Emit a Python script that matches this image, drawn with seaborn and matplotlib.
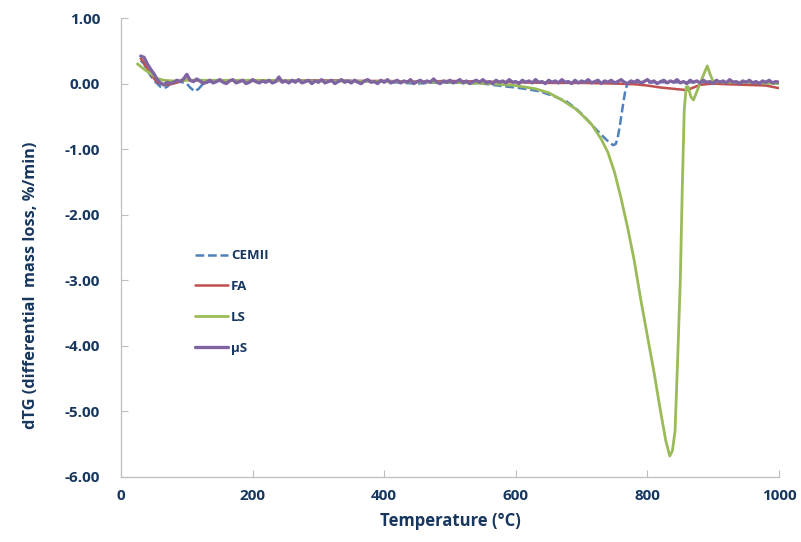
import numpy as np
import pandas as pd
import matplotlib
matplotlib.use("Agg")
import matplotlib.pyplot as plt
import seaborn as sns

# ---------------- data ----------------
cem_T = [30, 35, 40, 45, 50, 55, 60, 65, 70, 75, 80, 90, 100, 105, 112, 118, 125, 135, 150,
         200, 250, 300, 350, 400, 430, 450, 480, 520, 550, 580, 600, 620, 637, 660, 678, 690,
         702, 713, 723, 738, 748, 752, 755, 758, 761, 764, 767, 770, 780, 850, 920, 1000]
cem_v = [0.35, 0.30, 0.20, 0.12, 0.05, 0.00, -0.05, -0.07, -0.05, 0.00, 0.02, 0.03, 0.00, -0.06,
         -0.12, -0.08, 0.00, 0.03, 0.04, 0.05, 0.04, 0.05, 0.04, 0.03, 0.01, 0.00, 0.02, 0.01,
         0.00, -0.04, -0.06, -0.09, -0.12, -0.20, -0.28, -0.37, -0.48, -0.60, -0.71, -0.86,
         -0.94, -0.92, -0.82, -0.65, -0.45, -0.25, -0.08, 0.00, 0.02, 0.02, 0.02, 0.00]

fa_T = [30, 35, 40, 45, 50, 55, 60, 70, 80, 90, 100, 110, 120, 140, 160, 180, 200, 250, 300,
        350, 400, 450, 500, 550, 600, 650, 700, 750, 780, 800, 820, 840, 860, 870, 880, 900,
        920, 950, 980, 1000]
fa_v = [0.38, 0.32, 0.22, 0.15, 0.08, 0.02, 0.00, -0.02, 0.00, 0.03, 0.06, 0.05, 0.04, 0.05,
        0.04, 0.05, 0.04, 0.04, 0.05, 0.04, 0.04, 0.03, 0.04, 0.03, 0.02, 0.01, 0.01, 0.00,
        -0.01, -0.03, -0.06, -0.08, -0.10, -0.06, -0.02, 0.00, -0.01, -0.02, -0.03, -0.07]

ls_T = [25, 35, 45, 55, 65, 80, 100, 150, 200, 300, 400, 500, 560, 600, 630, 650, 670, 690,
        700, 715, 730, 740, 750, 760, 770, 780, 790, 800, 810, 820, 828, 834, 838, 842, 846,
        850, 853, 856, 859, 862, 866, 870, 874, 880, 886, 891, 895, 900, 920, 950, 1000]
ls_v = [0.30, 0.22, 0.15, 0.08, 0.05, 0.04, 0.05, 0.05, 0.05, 0.04, 0.03, 0.02, 0.00, -0.03,
        -0.08, -0.14, -0.25, -0.38, -0.47, -0.62, -0.85, -1.05, -1.35, -1.75, -2.20, -2.70,
        -3.30, -3.85, -4.40, -5.00, -5.45, -5.68, -5.60, -5.30, -4.20, -3.00, -1.60, -0.40,
        -0.05, -0.05, -0.20, -0.25, -0.15, 0.00, 0.15, 0.27, 0.15, 0.03, 0.02, 0.02, 0.00]

us_T = list(range(30, 1001, 5))
us_v = [0.42, 0.40, 0.30, 0.22, 0.15, 0.06, 0.01, -0.02, 0.02, 0.00, 0.02, 0.05, 0.03, 0.07,
        0.14, 0.05, 0.03, 0.07, 0.04,
        0.00, 0.02, 0.05, 0.01, 0.03, 0.06, 0.02, 0.00, 0.04, 0.06, 0.01,
        0.03, 0.05, 0.00, 0.02, 0.06, 0.03, 0.01, 0.04, 0.02, 0.05, 0.01,
        0.03, 0.10, 0.02, 0.04, 0.01, 0.05, 0.02, 0.06, 0.01, 0.03, 0.05,
        0.00, 0.04, 0.02, 0.06, 0.01, 0.03, 0.05, 0.00, 0.03, 0.06, 0.02,
        0.04, 0.01, 0.05, 0.02, 0.00, 0.04, 0.06, 0.02, 0.03, 0.00, 0.05,
        0.02, 0.06, 0.01, 0.03, 0.05, 0.01, 0.04, 0.02, 0.06, 0.00, 0.03,
        0.05, 0.01, 0.04, 0.02, 0.07, 0.02, 0.00, 0.04, 0.02, 0.05, 0.01,
        0.03, 0.06, 0.01, 0.04, 0.00, 0.03, 0.05, 0.02, 0.06, 0.01, 0.03,
        0.00, 0.05, 0.02, 0.04, 0.01, 0.06, 0.02, 0.03, 0.00, 0.05, 0.02,
        0.04, 0.01, 0.06, 0.02, 0.03, 0.00, 0.05, 0.02, 0.04, 0.01, 0.06,
        0.02, 0.03, 0.00, 0.05, 0.01, 0.04, 0.02, 0.06, 0.01, 0.03, 0.05,
        0.00, 0.04, 0.02, 0.05, 0.01, 0.03, 0.06, 0.02, 0.00, 0.04, 0.02,
        0.05, 0.01, 0.03, 0.06, 0.02, 0.04, 0.00, 0.03, 0.05, 0.01, 0.04,
        0.02, 0.06, 0.01, 0.03, 0.00, 0.05, 0.02, 0.04, 0.01, 0.05, 0.02,
        0.03, 0.00, 0.05, 0.02, 0.04, 0.01, 0.06, 0.02, 0.03, 0.00, 0.04,
        0.02, 0.05, 0.01, 0.03, 0.00, 0.04, 0.02, 0.05, 0.01, 0.03, 0.02]

series = [("CEMII", cem_T, cem_v, "#4F81BD", (0, (3.5, 1.5)), 1.8),
          ("FA", fa_T, fa_v, "#C0504D", "-", 1.8),
          ("LS", ls_T, ls_v, "#9BBB59", "-", 2.0),
          ("\u00b5S", us_T, us_v, "#8064A2", "-", 2.4)]

x_ticks = [0, 200, 400, 600, 800, 1000]
y_ticks = [1, 0, -1, -2, -3, -4, -5, -6]

# ---------------- plot ----------------
sns.set_theme(style="white")
plt.rcParams['font.family'] = ['Open Sans', 'DejaVu Sans']
text_col = "#17375E"

fig = plt.figure(figsize=(8.01, 5.42), dpi=100)
ax = fig.add_axes([121/801, 1 - 477/542, (779-121)/801, (477-18)/542])

for name, T, v, col, ls, lw in series:
    df = pd.DataFrame({"T": T, "v": v})
    sns.lineplot(data=df, x="T", y="v", ax=ax, color=col, linestyle=ls, linewidth=lw,
                 label=name, sort=False, estimator=None)

ax.set_xlim(0, 1000)
ax.set_ylim(-6, 1)
ax.set_xticks(x_ticks)
ax.set_yticks(y_ticks)
ax.set_xticklabels([str(t) for t in x_ticks], fontsize=11, fontweight="bold", color=text_col)
ax.set_yticklabels([f"{t:.2f}" for t in y_ticks], fontsize=11, fontweight="bold", color=text_col)
ax.tick_params(axis="x", direction="in", length=5, width=0.8, color="#BFBFBF", pad=9, bottom=True)
ax.tick_params(axis="y", direction="in", length=5, width=0.8, color="#BFBFBF", pad=15, left=True)
for s in ["top", "right"]:
    ax.spines[s].set_visible(False)
for s in ["left", "bottom"]:
    ax.spines[s].set_color("#BFBFBF")
    ax.spines[s].set_linewidth(0.9)

ax.set_xlabel("Temperature (\u00b0C)", fontsize=12, fontweight="bold", color=text_col, labelpad=6)
ax.set_ylabel("dTG (differential  mass loss, %/min)", fontsize=11.8, fontweight="bold",
              color=text_col)
ax.yaxis.set_label_coords(-0.125, 0.418)

leg = ax.legend(loc="upper left", bbox_to_anchor=(0.095, 0.522), frameon=False,
                prop={"size": 9.5, "weight": "bold"}, labelspacing=1.35, handlelength=2.5,
                handletextpad=0.2)
for t in leg.get_texts():
    t.set_color(text_col)

fig.savefig("out.png", dpi=100)
